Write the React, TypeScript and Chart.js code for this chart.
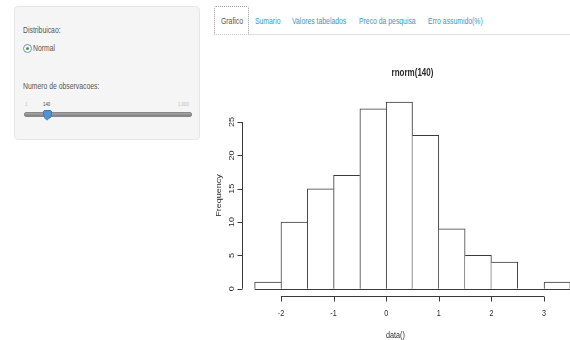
import React, { useEffect, useRef } from "react";
import { Chart, registerables } from "chart.js";

Chart.register(...registerables);

// ---- data ----
const binStarts = [-2.5, -2, -1.5, -1, -0.5, 0, 0.5, 1, 1.5, 2, 2.5, 3];
const binWidth = 0.5;
const counts = [1, 10, 15, 17, 27, 28, 23, 9, 5, 4, 0, 1];
const xTicks = [-2, -1, 0, 1, 2, 3];
const yTicks = [0, 5, 10, 15, 20, 25];
const chartTitle = "rnorm(140)";
const xLabel = "data()";
const yLabel = "Frequency";
const tabLabels = ["Grafico", "Sumario", "Valores tabelados", "Preco da pesquisa", "Erro assumido(%)"];

const LINE = "#3a3a3a";
const TEXT = "#2b2b2b";
const SQ = 0.8;

function txt(ctx: CanvasRenderingContext2D, s: string, x: number, y: number, font: string, rot = 0) {
  ctx.save();
  ctx.translate(x, y);
  if (rot) ctx.rotate(rot);
  if (rot) ctx.scale(1, SQ);
  else ctx.scale(SQ, 1);
  ctx.font = font;
  ctx.fillStyle = TEXT;
  ctx.textAlign = "center";
  ctx.textBaseline = "middle";
  ctx.fillText(s, 0, 0);
  ctx.restore();
}

const rAxes = {
  id: "rAxes",
  afterDraw(chart: any) {
    const ctx: CanvasRenderingContext2D = chart.ctx;
    const xs = chart.scales.x;
    const ys = chart.scales.y;
    const area = chart.chartArea;
    ctx.save();
    ctx.strokeStyle = LINE;
    ctx.lineWidth = 1;
    // baseline of histogram
    const y0 = Math.round(ys.getPixelForValue(0)) + 0.5;
    ctx.beginPath();
    ctx.moveTo(xs.getPixelForValue(binStarts[0]), y0);
    ctx.lineTo(xs.getPixelForValue(binStarts[binStarts.length - 1] + binWidth), y0);
    ctx.stroke();
    // y axis
    const ax = Math.round(area.left) + 0.5;
    ctx.beginPath();
    ctx.moveTo(ax, ys.getPixelForValue(yTicks[0]));
    ctx.lineTo(ax, ys.getPixelForValue(yTicks[yTicks.length - 1]));
    yTicks.forEach((t) => {
      const py = Math.round(ys.getPixelForValue(t)) + 0.5;
      ctx.moveTo(ax, py);
      ctx.lineTo(ax - 5, py);
    });
    ctx.stroke();
    // x axis
    const ay = Math.round(area.bottom) + 0.5;
    ctx.beginPath();
    ctx.moveTo(xs.getPixelForValue(xTicks[0]), ay);
    ctx.lineTo(xs.getPixelForValue(xTicks[xTicks.length - 1]), ay);
    xTicks.forEach((t) => {
      const px = Math.round(xs.getPixelForValue(t)) + 0.5;
      ctx.moveTo(px, ay);
      ctx.lineTo(px, ay + 5);
    });
    ctx.stroke();
    ctx.restore();
    const f = "9px 'Liberation Sans', Arial, sans-serif";
    yTicks.forEach((t) => {
      txt(ctx, String(t), area.left - 10, ys.getPixelForValue(t), f, -Math.PI / 2);
    });
    xTicks.forEach((t) => {
      txt(ctx, String(t), xs.getPixelForValue(t), area.bottom + 17, f);
    });
    txt(ctx, yLabel, area.left - 23, (area.top + area.bottom) / 2, f, -Math.PI / 2);
    txt(ctx, xLabel, (area.left + area.right) / 2 - 17, area.bottom + 39, f);
    txt(ctx, chartTitle, (area.left + area.right) / 2, area.top - 21, "bold 10px 'Liberation Sans', Arial, sans-serif");
  },
};

function Histogram() {
  const ref = useRef<HTMLCanvasElement>(null);
  useEffect(() => {
    if (!ref.current) return;
    const data = binStarts.map((s, i) => ({ x: s + binWidth / 2, y: counts[i] }));
    const chart = new Chart(ref.current, {
      type: "bar",
      data: {
        datasets: [
          {
            data,
            backgroundColor: "#ffffff",
            borderColor: LINE,
            borderSkipped: false,
            borderWidth: (c: any) => {
              const i = c.dataIndex;
              const v = counts[i];
              if (!v) return 0;
              const prev = i > 0 ? counts[i - 1] : 0;
              const next = i < counts.length - 1 ? counts[i + 1] : 0;
              return { top: 1, bottom: 0, left: prev <= v ? 1 : 0, right: next < v ? 1 : 0 };
            },
            barPercentage: 1,
            categoryPercentage: 1,
          } as any,
        ],
      },
      options: {
        responsive: false,
        animation: false,
        layout: { padding: { left: 42, top: 54.6, right: 17, bottom: 43.8 } },
        plugins: { legend: { display: false }, tooltip: { enabled: false }, title: { display: false } },
        scales: {
          x: { type: "linear", min: -2.74, max: 3.74, offset: false, display: false },
          y: { type: "linear", min: -1.12, max: 29.12, display: false },
        },
      },
      plugins: [rAxes],
    });
    return () => chart.destroy();
  }, []);
  return <canvas ref={ref} width={400} height={300} style={{ position: "absolute", left: 200, top: 40, width: 400, height: 300 }} />;
}

const sq: React.CSSProperties = {
  position: "absolute",
  whiteSpace: "nowrap",
  transform: "scaleX(0.72)",
  transformOrigin: "left center",
  fontFamily: "'Liberation Sans', Arial, sans-serif",
  fontSize: 9.5,
  lineHeight: "12px",
};

const tabLefts = [221, 255, 292, 359, 428];

export default function App() {
  return (
    <div style={{ position: "fixed", left: 0, top: 0, width: 570, height: 340, overflow: "hidden", background: "#fff" }}>
      {/* sidebar well */}
      <div
        style={{
          position: "absolute",
          left: 14,
          top: 6,
          width: 184,
          height: 132,
          background: "#f5f5f5",
          border: "1px solid #e6e6e6",
          borderRadius: 4,
        }}
      />
      <span style={{ ...sq, left: 23, top: 24, color: "#555" }}>Distribuicao:</span>
      <div
        style={{
          position: "absolute",
          left: 23,
          top: 44,
          width: 7,
          height: 7,
          borderRadius: "50%",
          border: "1px solid #6d8fb0",
          background: "#fff",
        }}
      >
        <div style={{ position: "absolute", left: 2, top: 2, width: 3, height: 3, borderRadius: "50%", background: "#3e9a5a" }} />
      </div>
      <span style={{ ...sq, left: 33, top: 42, color: "#555" }}>Normal</span>
      <span style={{ ...sq, left: 23, top: 80, color: "#555" }}>Numero de observacoes:</span>
      <span style={{ ...sq, left: 25, top: 98, fontSize: 6, color: "#bbb" }}>1</span>
      <span style={{ ...sq, left: 43, top: 98, fontSize: 6, color: "#444" }}>140</span>
      <span style={{ ...sq, left: 178, top: 98, fontSize: 6, color: "#bbb" }}>1,000</span>
      <div
        style={{
          position: "absolute",
          left: 24,
          top: 112,
          width: 166,
          height: 3,
          borderRadius: 2,
          background: "linear-gradient(#a8a8a8, #808080)",
          border: "0.5px solid #888",
        }}
      />
      <div
        style={{
          position: "absolute",
          left: 43,
          top: 110,
          width: 7,
          height: 7,
          background: "#4f93d6",
          borderRadius: "2px 2px 50% 50%",
          border: "0.5px solid #3a78b8",
        }}
      />
      <div
        style={{
          position: "absolute",
          left: 44.5,
          top: 116,
          width: 4,
          height: 4,
          background: "#4f93d6",
          transform: "rotate(45deg)",
        }}
      />
      {/* tabs */}
      <div style={{ position: "absolute", left: 214, top: 34, width: 356, height: 1, background: "#e2e2e2" }} />
      <div
        style={{
          position: "absolute",
          left: 214,
          top: 6,
          width: 33,
          height: 27,
          background: "#fff",
          border: "1px dotted #9a9a9a",
          borderBottom: "1px dotted #c8c8c8",
          borderRadius: "2px 2px 0 0",
        }}
      />
      {tabLabels.map((t, i) => (
        <span key={t} style={{ ...sq, left: tabLefts[i], top: 15, color: i === 0 ? "#555" : "#3399cc" }}>
          {t}
        </span>
      ))}
      <Histogram />
    </div>
  );
}
